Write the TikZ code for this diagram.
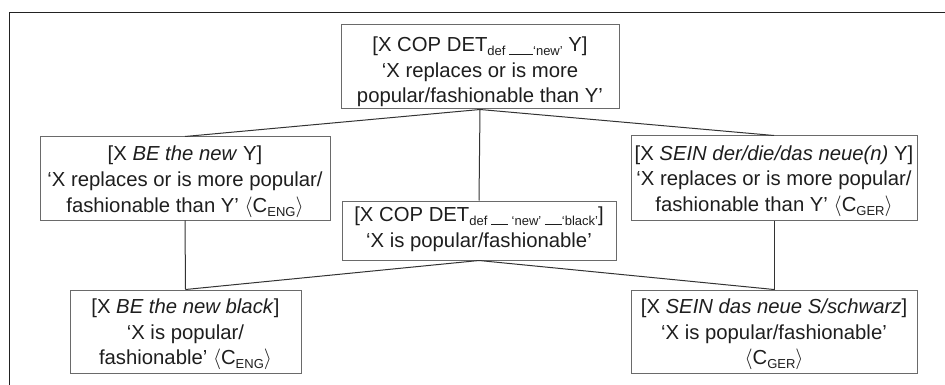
\documentclass[tikz,border=0pt]{standalone}
\usepackage{fontspec}
\setmainfont{Liberation Sans}
\definecolor{boxline}{HTML}{6A6A6A}
\definecolor{linkline}{HTML}{333333}
\definecolor{ink}{HTML}{1E1E1E}
\definecolor{framecol}{HTML}{222222}
% lowered small text for subscripts
\newcommand{\lowsub}[1]{\raisebox{-4pt}{\fontsize{13}{13}\selectfont #1}}
% blank slot line
\newcommand{\slot}[1]{\rule{#1}{1pt}}
% construction label in angle brackets
\newcommand{\cx}[1]{$\langle$C\lowsub{#1}$\rangle$}
% invisible struts that set the first line's height or the last line's depth
\newcommand{\hstrut}[1]{\rule{0pt}{#1}}
\newcommand{\dstrut}[1]{\rule[-#1]{0pt}{0pt}}
\begin{document}
\begin{tikzpicture}[x=1pt,y=-1pt,
  cbox/.style={draw=boxline, line width=1pt, text=ink, align=center,
    inner sep=0pt, font=\fontsize{20.3}{25.8}\selectfont},
  link/.style={draw=linkline, line width=1pt},
  frame/.style={draw=framecol, line width=1.4pt}]
\useasboundingbox (0,0) rectangle (945,385);
\draw[frame] (9.5,385) -- (9.5,12.5) -- (945,12.5);

\node[cbox, minimum width=278pt, minimum height=84pt] (top) at (480,67)
  {\hstrut{24.5pt}[X COP DET\lowsub{def \slot{24pt}‘new’} Y]\\ ‘X replaces or is more\\ popular/fashionable than Y’};
\node[cbox, minimum width=290pt, minimum height=83pt] (lmid) at (185,178.5)
  {\hstrut{21pt}[X \textit{BE the new} Y]\\ ‘X replaces or is more popular/\\ fashionable than Y’ \cx{ENG}};
\node[cbox, minimum width=286pt, minimum height=84pt] (rmid) at (774,178)
  {\hstrut{21pt}[X \textit{SEIN der/die/das neue(n)} Y]\\ ‘X replaces or is more popular/\\ fashionable than Y’ \cx{GER}};
\node[cbox, minimum width=274pt, minimum height=59pt] (cmid) at (479,230.5)
  {[X COP DET\lowsub{def \slot{17pt} ‘new’ \slot{17pt}‘black’}]\\ ‘X is popular/fashionable’\dstrut{7.5pt}};
\node[cbox, minimum width=231pt, minimum height=83pt] (lbot) at (185.5,331.5)
  {\hstrut{20.5pt}[X \textit{BE the new black}]\\ ‘X is popular/\\ fashionable’ \cx{ENG}};
\node[cbox, minimum width=286pt, minimum height=83pt] (rbot) at (774,331.5)
  {\hstrut{20.5pt}[X \textit{SEIN das neue S/schwarz}]\\ ‘X is popular/fashionable’\\ \cx{GER}};

\draw[link] (top.south) -- (lmid.north);
\draw[link] (top.south) -- (cmid.north);
\draw[link] (top.south) -- (rmid.north);
\draw[link] (lmid.south) -- (lbot.north);
\draw[link] (rmid.south) -- (rbot.north);
\draw[link] (cmid.south) -- (lbot.north);
\draw[link] (cmid.south) -- (rbot.north);
\end{tikzpicture}
\end{document}
